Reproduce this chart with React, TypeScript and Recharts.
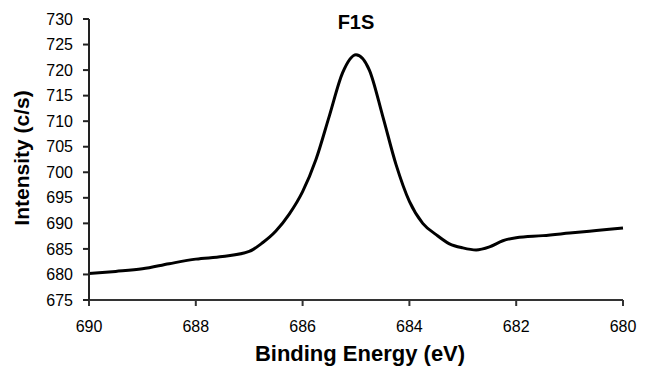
import { LineChart, Line, XAxis, YAxis } from "recharts";

const energy = [
  690, 689.5, 689, 688.5, 688, 687.5, 687, 686.75, 686.5, 686.25, 686,
  685.75, 685.5, 685.25, 685, 684.75, 684.5, 684.25, 684, 683.75, 683.5,
  683.25, 683, 682.75, 682.5, 682.25, 682, 681.5, 681, 680.5, 680,
];
const intensity = [
  680.2, 680.6, 681.1, 682.1, 683.0, 683.5, 684.5, 686.2, 688.5, 691.8, 696.2,
  702.5, 711, 719.5, 723, 720, 711, 701.5, 694.3, 690, 687.8,
  686.0, 685.2, 684.8, 685.4, 686.6, 687.2, 687.6, 688.1, 688.6, 689.1,
];
const xTicks = [690, 688, 686, 684, 682, 680];
const yTicks = [675, 680, 685, 690, 695, 700, 705, 710, 715, 720, 725, 730];

const data = energy.map((e, i) => ({ energy: e, intensity: intensity[i] }));

const font = "'Liberation Sans', Arial, Helvetica, sans-serif";
const tickStyle = { fill: "#000", fontSize: 16, fontFamily: font };

export default function App() {
  return (
    <div style={{ position: "absolute", left: 0, top: 0, width: 650, height: 373, background: "#fff", fontFamily: font }}>
      <LineChart
        width={650}
        height={373}
        data={data}
        margin={{ top: 19, right: 27, left: 0, bottom: 0 }}
      >
        <XAxis
          dataKey="energy"
          type="number"
          domain={[680, 690]}
          reversed
          ticks={xTicks}
          height={73}
          tickSize={6}
          tickMargin={15}
          tick={tickStyle}
          axisLine={{ stroke: "#333", strokeWidth: 2 }}
          tickLine={{ stroke: "#333", strokeWidth: 2 }}
        />
        <YAxis
          type="number"
          domain={[675, 730]}
          ticks={yTicks}
          width={89}
          tickSize={6}
          tickMargin={10}
          tick={tickStyle}
          axisLine={{ stroke: "#222", strokeWidth: 2 }}
          tickLine={{ stroke: "#222", strokeWidth: 2 }}
          interval={0}
        />
        <Line
          dataKey="intensity"
          type="monotone"
          stroke="#000"
          strokeWidth={3}
          dot={false}
          isAnimationActive={false}
        />
      </LineChart>
      <div style={{ position: "absolute", left: 306, width: 100, top: 11, textAlign: "center", fontWeight: 700, fontSize: 20 }}>
        F1S
      </div>
      <div style={{ position: "absolute", left: 210, width: 300, top: 341, textAlign: "center", fontWeight: 700, fontSize: 22 }}>
        Binding Energy (eV)
      </div>
      <div
        style={{
          position: "absolute",
          left: 22,
          top: 158,
          transform: "translate(-50%, -50%) rotate(-90deg)",
          whiteSpace: "nowrap",
          fontWeight: 700,
          fontSize: 21,
        }}
      >
        Intensity (c/s)
      </div>
    </div>
  );
}
